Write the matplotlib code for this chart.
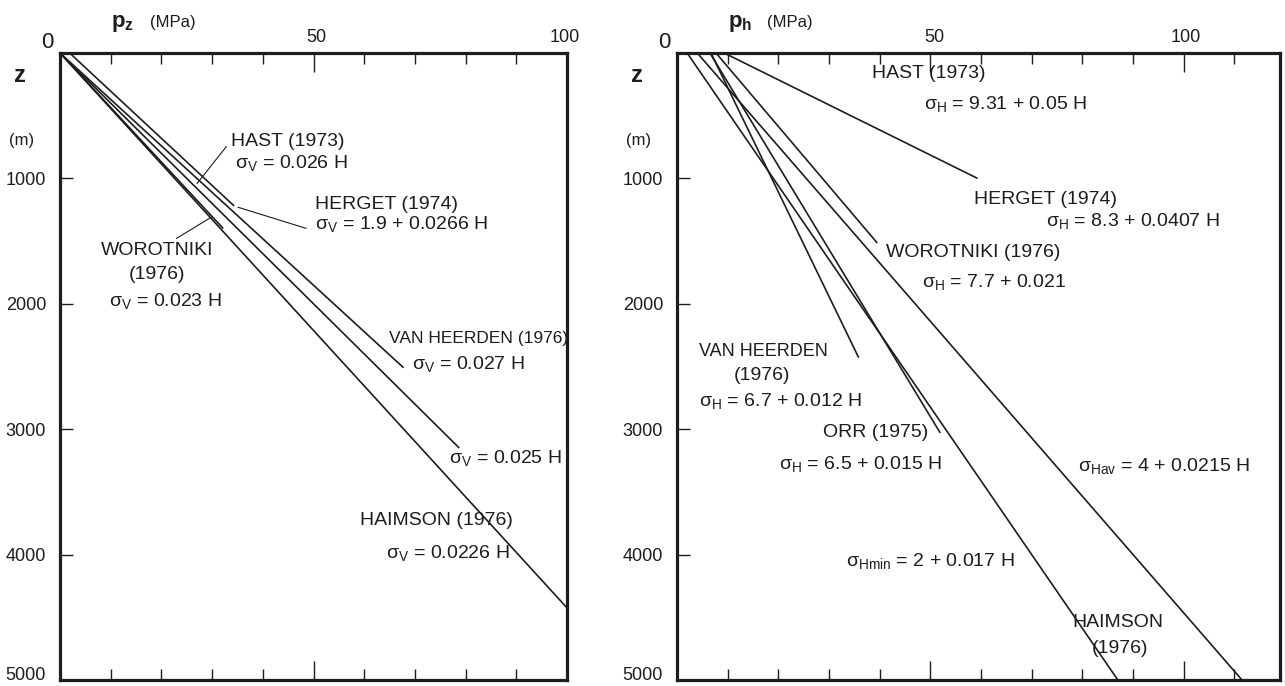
import numpy as np
import matplotlib
matplotlib.use('Agg')
import matplotlib.pyplot as plt

plt.rcParams['font.family'] = ['Liberation Sans', 'DejaVu Sans']
plt.rcParams['mathtext.fontset'] = 'custom'
plt.rcParams['mathtext.rm'] = 'Liberation Sans'
plt.rcParams['mathtext.it'] = 'Liberation Sans:italic'
plt.rcParams['mathtext.bf'] = 'Liberation Sans:bold'

INK = '#1e1c1c'

# vertical stress sigma_V = a + b*H (MPa, H in m), drawn down to depth end
vert_names = ['HERGET (1974)', 'VAN HEERDEN (1976)', 'sigma 0.025', 'WOROTNIKI (1976)', 'HAIMSON (1976)']
vert_a = [1.9, 0.0, 0.0, 0.0, 0.0]
vert_b = [0.0266, 0.027, 0.025, 0.023, 0.0226]
vert_end = [1220, 2510, 3150, 1400, 5000]

# horizontal stress sigma_H = a + b*H
hor_names = ['HAST (1973)', 'WOROTNIKI (1976)', 'VAN HEERDEN (1976)', 'ORR (1975)', 'Hav', 'Hmin']
hor_a = [9.31, 7.7, 6.7, 6.5, 4.0, 2.0]
hor_b = [0.05, 0.021, 0.012, 0.015, 0.0215, 0.017]
hor_end = [1000, 1515, 2430, 3030, 5000, 5000]

depth_ticks = [1000, 2000, 3000, 4000, 5000]

W, Hpx = 1285, 686
fig = plt.figure(figsize=(W / 100, Hpx / 100), dpi=100)


def fx(px):
    return px / W


def fy(py):
    return 1 - py / Hpx


ax1 = fig.add_axes([fx(60), fy(680), (567 - 60) / W, (680 - 53) / Hpx])
ax2 = fig.add_axes([fx(677), fy(680), (1280 - 677) / W, (680 - 53) / Hpx])


def setup(ax, xmax, major):
    ax.set_xlim(0, xmax)
    ax.set_ylim(5000, 0)
    for s in ax.spines.values():
        s.set_linewidth(2.3)
        s.set_color(INK)
    ax.set_xticks(major)
    ax.set_xticklabels([])
    ax.set_xticks([t for t in range(10, int(xmax) + 1, 10) if t not in major], minor=True)
    ax.tick_params(axis='x', which='major', direction='in', top=True, bottom=True,
                   length=14, width=1, color=INK, labelbottom=False)
    ax.tick_params(axis='x', which='minor', direction='in', top=True, bottom=True,
                   length=8, width=1, color=INK)
    ax.set_yticks(depth_ticks)
    ax.set_yticklabels([str(t) for t in depth_ticks])
    ax.tick_params(axis='y', direction='in', length=9, width=1, color=INK,
                   labelsize=13, pad=10, labelcolor=INK)
    # keep the bottom label inside the picture
    ax.get_yticklabels()[-1].set_verticalalignment('baseline')


setup(ax1, 100, [50])
setup(ax2, 119, [50, 100])

for a, b, e in zip(vert_a, vert_b, vert_end):
    h = np.array([0, e])
    ax1.plot(a + b * h, h, color=INK, lw=1.2, solid_capstyle='butt')

for a, b, e in zip(hor_a, hor_b, hor_end):
    h = np.array([0, e])
    ax2.plot(a + b * h, h, color=INK, lw=1.2, solid_capstyle='butt')

# leader lines in the left panel
lead = dict(color=INK, lw=0.8)
h = 1040
ax1.plot([0.026 * h, 32.8], [h, 747], **lead)
h = 1230
ax1.plot([vert_a[0] + vert_b[0] * h + 0.5, 48.5], [h, 1398], **lead)
h = 1305
ax1.plot([vert_b[3] * h, 23.0], [h, 1478], **lead)

fs = 14
txt = dict(color=INK, fontsize=fs, ha='center', va='center')
ax1.text(45.0, 702, 'HAST (1973)', **txt)
ax1.text(45.6, 875, r'σ$_{\rm V}$ = 0.026 H', **txt)
ax1.text(64.3, 1212, 'HERGET (1974)', **txt)
ax1.text(67.3, 1362, r'σ$_{\rm V}$ = 1.9 + 0.0266 H', **txt)
ax1.text(19.1, 1571, 'WOROTNIKI', **txt)
ax1.text(19.1, 1770, '(1976)', **txt)
ax1.text(20.7, 1975, r'σ$_{\rm V}$ = 0.023 H', **txt)
ax1.text(100.3, 2273, 'VAN HEERDEN (1976)', color=INK, fontsize=12.5, ha='right', va='center')
ax1.text(80.5, 2478, r'σ$_{\rm V}$ = 0.027 H', **txt)
ax1.text(87.8, 3228, r'σ$_{\rm V}$ = 0.025 H', **txt)
ax1.text(74.2, 3732, 'HAIMSON (1976)', **txt)
ax1.text(76.5, 3985, r'σ$_{\rm V}$ = 0.0226 H', **txt)

ax2.text(49.7, 167, 'HAST (1973)', **txt)
ax2.text(64.9, 405, r'σ$_{\rm H}$ = 9.31 + 0.05 H', **txt)
ax2.text(72.8, 1172, 'HERGET (1974)', **txt)
ax2.text(89.9, 1338, r'σ$_{\rm H}$ = 8.3 + 0.0407 H', **txt)
ax2.text(58.4, 1587, 'WOROTNIKI (1976)', **txt)
ax2.text(62.5, 1824, r'σ$_{\rm H}$ = 7.7 + 0.021', **txt)
ax2.text(17.0, 2384, 'VAN HEERDEN', color=INK, fontsize=13, ha='center', va='center')
ax2.text(16.8, 2568, '(1976)', **txt)
ax2.text(20.5, 2773, r'σ$_{\rm H}$ = 6.7 + 0.012 H', **txt)
ax2.text(39.1, 3030, 'ORR (1975)', **txt)
ax2.text(36.1, 3276, r'σ$_{\rm H}$ = 6.5 + 0.015 H', **txt)
ax2.text(96.1, 3291, r'σ$_{\rm Hav}$ = 4 + 0.0215 H', **txt)
ax2.text(49.9, 4049, r'σ$_{\rm Hmin}$ = 2 + 0.017 H', **txt)
ax2.text(87.0, 4545, 'HAIMSON', **txt)
ax2.text(87.4, 4745, '(1976)', **txt)

# axis captions and top scale numbers
for x0, sub in [(0, 'z'), (617, 'h')]:
    fig.text(fx(x0 + 47), fy(42), '0', fontsize=16, color=INK, ha='center', va='center')
    fig.text(fx(x0 + 123), fy(24), r'$\mathbf{p}_\mathbf{%s}$' % sub, fontsize=16,
             color=INK, ha='center', va='center')
    fig.text(fx(x0 + 173), fy(22), '(MPa)', fontsize=12, color=INK, ha='center', va='center')
    fig.text(fx(x0 + 20), fy(75), 'z', fontsize=17, fontweight='bold', color=INK,
             ha='center', va='center')
    fig.text(fx(x0 + 22), fy(140), '(m)', fontsize=12, color=INK, ha='center', va='center')

fig.text(fx(316), fy(38), '50', fontsize=13, color=INK, ha='center', va='center')
fig.text(fx(565), fy(38), '100', fontsize=13, color=INK, ha='center', va='center')
fig.text(fx(934), fy(38), '50', fontsize=13, color=INK, ha='center', va='center')
fig.text(fx(1186), fy(38), '100', fontsize=13, color=INK, ha='center', va='center')

fig.savefig('out.png', dpi=100, facecolor='white')
